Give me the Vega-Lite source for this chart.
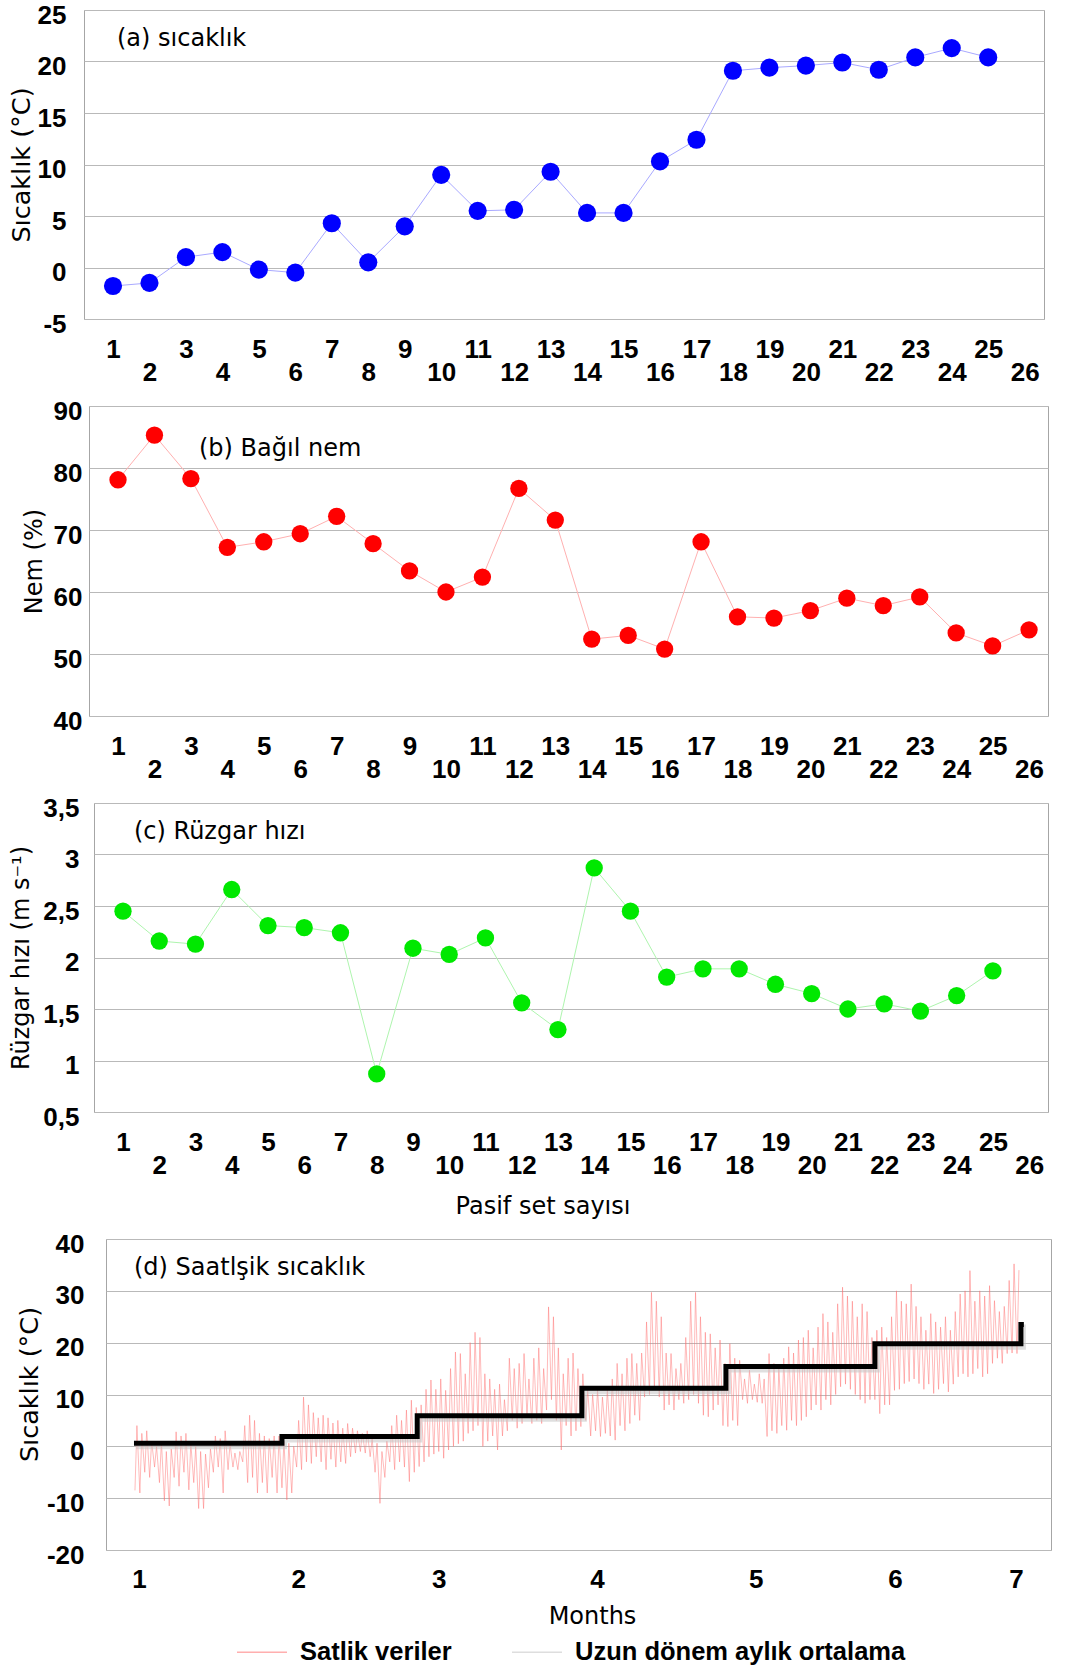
{
  "$schema": "https://vega.github.io/schema/vega-lite/v6.json",
  "background": "white",
  "padding": {"left": 8, "top": 1, "right": 0, "bottom": 0},
  "spacing": 11,
  "config": {
    "view": {"stroke": "#a6a6a6", "strokeWidth": 1},
    "axis": {
      "domain": false, "ticks": false, "tickSize": 0,
      "labelFont": "Liberation Sans", "labelFontWeight": "bold", "labelFontSize": 26, "labelColor": "#000000",
      "titleFont": "DejaVu Sans", "titleFontWeight": "normal", "titleFontSize": 24, "titleColor": "#000000",
      "gridColor": "#b9b9b9", "gridWidth": 1, "labelOverlap": false, "labelFlush": false
    },
    "axisX": {"grid": false},
    "axisY": {"labelOffset": 5},
    "title": {"anchor": "start", "frame": "group", "orient": "top", "offset": 0, "baseline": "alphabetic",
              "font": "DejaVu Sans", "fontSize": 24, "fontWeight": "normal", "color": "#000000"}
  },
  "datasets": {
    "sicaklik": [
      {"set": 1, "deger": -1.8}, {"set": 2, "deger": -1.5}, {"set": 3, "deger": 1.0}, {"set": 4, "deger": 1.5},
      {"set": 5, "deger": -0.2}, {"set": 6, "deger": -0.5}, {"set": 7, "deger": 4.3}, {"set": 8, "deger": 0.5},
      {"set": 9, "deger": 4.0}, {"set": 10, "deger": 9.0}, {"set": 11, "deger": 5.5}, {"set": 12, "deger": 5.6},
      {"set": 13, "deger": 9.3}, {"set": 14, "deger": 5.3}, {"set": 15, "deger": 5.3}, {"set": 16, "deger": 10.3},
      {"set": 17, "deger": 12.4}, {"set": 18, "deger": 19.1}, {"set": 19, "deger": 19.4}, {"set": 20, "deger": 19.6},
      {"set": 21, "deger": 19.9}, {"set": 22, "deger": 19.2}, {"set": 23, "deger": 20.4}, {"set": 24, "deger": 21.3},
      {"set": 25, "deger": 20.4}
    ],
    "nem": [
      {"set": 1, "deger": 78.1}, {"set": 2, "deger": 85.3}, {"set": 3, "deger": 78.3}, {"set": 4, "deger": 67.2},
      {"set": 5, "deger": 68.1}, {"set": 6, "deger": 69.4}, {"set": 7, "deger": 72.2}, {"set": 8, "deger": 67.8},
      {"set": 9, "deger": 63.4}, {"set": 10, "deger": 60.0}, {"set": 11, "deger": 62.4}, {"set": 12, "deger": 76.7},
      {"set": 13, "deger": 71.6}, {"set": 14, "deger": 52.4}, {"set": 15, "deger": 53.0}, {"set": 16, "deger": 50.8},
      {"set": 17, "deger": 68.1}, {"set": 18, "deger": 56.0}, {"set": 19, "deger": 55.8}, {"set": 20, "deger": 57.0},
      {"set": 21, "deger": 59.0}, {"set": 22, "deger": 57.8}, {"set": 23, "deger": 59.2}, {"set": 24, "deger": 53.4},
      {"set": 25, "deger": 51.3}, {"set": 26, "deger": 53.9}
    ],
    "ruzgar": [
      {"set": 1, "deger": 2.45}, {"set": 2, "deger": 2.16}, {"set": 3, "deger": 2.13}, {"set": 4, "deger": 2.66},
      {"set": 5, "deger": 2.31}, {"set": 6, "deger": 2.29}, {"set": 7, "deger": 2.24}, {"set": 8, "deger": 0.87},
      {"set": 9, "deger": 2.09}, {"set": 10, "deger": 2.03}, {"set": 11, "deger": 2.19}, {"set": 12, "deger": 1.56},
      {"set": 13, "deger": 1.30}, {"set": 14, "deger": 2.87}, {"set": 15, "deger": 2.45}, {"set": 16, "deger": 1.81},
      {"set": 17, "deger": 1.89}, {"set": 18, "deger": 1.89}, {"set": 19, "deger": 1.74}, {"set": 20, "deger": 1.65},
      {"set": 21, "deger": 1.50}, {"set": 22, "deger": 1.55}, {"set": 23, "deger": 1.48}, {"set": 24, "deger": 1.63},
      {"set": 25, "deger": 1.87}
    ],
    "aylik": [
      {"gun": 0, "t": 0.6}, {"gun": 30.2, "t": 1.9}, {"gun": 57.8, "t": 5.9}, {"gun": 91.4, "t": 11.2},
      {"gun": 120.8, "t": 15.4}, {"gun": 151.2, "t": 19.8}, {"gun": 181, "t": 23.5}, {"gun": 181.6, "t": 23.5}
    ],
    "saatlik": [
      {"gun":0.2,"t":-8.5},{"gun":0.6,"t":4},{"gun":1.2,"t":-9},{"gun":1.6,"t":2.5},{"gun":2.2,"t":-5},{"gun":2.6,"t":3},
      {"gun":3.2,"t":-6},{"gun":3.6,"t":1},{"gun":4.2,"t":-4},{"gun":4.6,"t":0},{"gun":5.2,"t":-7},{"gun":5.6,"t":1},
      {"gun":6.2,"t":-10.5},{"gun":6.6,"t":-1},{"gun":7.2,"t":-11.5},{"gun":7.6,"t":-0.5},{"gun":8.2,"t":-6},{"gun":8.6,"t":2.8},
      {"gun":9.2,"t":-7.7},{"gun":9.6,"t":2},{"gun":10.2,"t":-5},{"gun":10.6,"t":2.5},{"gun":11.2,"t":-8.4},{"gun":11.6,"t":0.6},
      {"gun":12.2,"t":-7},{"gun":12.6,"t":0},{"gun":13.2,"t":-12},{"gun":13.6,"t":-1},{"gun":14.2,"t":-12},{"gun":14.6,"t":-1.5},
      {"gun":15.2,"t":-8},{"gun":15.6,"t":-0.5},{"gun":16.2,"t":-5},{"gun":16.6,"t":2},{"gun":17.2,"t":-4},{"gun":17.6,"t":1.5},
      {"gun":18.2,"t":-9},{"gun":18.6,"t":3},{"gun":19.2,"t":-4.5},{"gun":19.6,"t":0.5},{"gun":20.2,"t":-4},{"gun":20.6,"t":-1.3},
      {"gun":21.2,"t":-4.5},{"gun":21.6,"t":-1},{"gun":22.2,"t":-3},{"gun":22.6,"t":4},{"gun":23.2,"t":-7},{"gun":23.6,"t":6},
      {"gun":24.2,"t":-6},{"gun":24.6,"t":5},{"gun":25.2,"t":-9},{"gun":25.6,"t":2.5},{"gun":26.2,"t":-7},{"gun":26.6,"t":2},
      {"gun":27.2,"t":-9},{"gun":27.6,"t":1.5},{"gun":28.2,"t":-6},{"gun":28.6,"t":2},{"gun":29.2,"t":-9},{"gun":29.6,"t":2},
      {"gun":30.2,"t":-8},{"gun":30.6,"t":1},{"gun":31.2,"t":-10.3},{"gun":31.6,"t":0.6},{"gun":32.2,"t":-9},{"gun":32.6,"t":0},
      {"gun":33.2,"t":-4},{"gun":33.6,"t":5},{"gun":34.2,"t":-4.5},{"gun":34.6,"t":9.5},{"gun":35.2,"t":-3},{"gun":35.6,"t":8},
      {"gun":36.2,"t":-3.3},{"gun":36.6,"t":6.5},{"gun":37.2,"t":-2},{"gun":37.6,"t":5.5},{"gun":38.2,"t":-3},{"gun":38.6,"t":6},
      {"gun":39.2,"t":-4.5},{"gun":39.6,"t":5.5},{"gun":40.2,"t":-2.5},{"gun":40.6,"t":4.5},{"gun":41.2,"t":-4},{"gun":41.6,"t":5},
      {"gun":42.2,"t":-3},{"gun":42.6,"t":3.5},{"gun":43.2,"t":-3.3},{"gun":43.6,"t":4.4},{"gun":44.2,"t":-2},{"gun":44.6,"t":3.5},
      {"gun":45.2,"t":-1.3},{"gun":45.6,"t":3},{"gun":46.2,"t":-1},{"gun":46.6,"t":2.5},{"gun":47.2,"t":-1.3},{"gun":47.6,"t":3},
      {"gun":48.2,"t":-2},{"gun":48.6,"t":1.5},{"gun":49.2,"t":-5},{"gun":49.6,"t":0.6},{"gun":50.2,"t":-11},{"gun":50.6,"t":-1},
      {"gun":51.2,"t":-6},{"gun":51.6,"t":1},{"gun":52.2,"t":-3},{"gun":52.6,"t":4},{"gun":53.2,"t":-4.5},{"gun":53.6,"t":6},
      {"gun":54.2,"t":-3},{"gun":54.6,"t":5},{"gun":55.2,"t":-4},{"gun":55.6,"t":7},{"gun":56.2,"t":-6.8},{"gun":56.6,"t":8.9},
      {"gun":57.2,"t":-5},{"gun":57.6,"t":7.5},{"gun":58.2,"t":-3.9},{"gun":58.6,"t":8},{"gun":59.2,"t":-3},{"gun":59.6,"t":11},
      {"gun":60.2,"t":-2},{"gun":60.6,"t":12.8},{"gun":61.2,"t":-1.5},{"gun":61.6,"t":11},{"gun":62.2,"t":-1},{"gun":62.6,"t":13},
      {"gun":63.2,"t":-2.3},{"gun":63.6,"t":10.8},{"gun":64.2,"t":-0.7},{"gun":64.6,"t":15},{"gun":65.2,"t":0},{"gun":65.6,"t":18.2},
      {"gun":66.2,"t":0.5},{"gun":66.6,"t":17.9},{"gun":67.2,"t":1},{"gun":67.6,"t":14},{"gun":68.2,"t":2.5},{"gun":68.6,"t":20},
      {"gun":69.2,"t":3},{"gun":69.6,"t":22},{"gun":70.2,"t":4},{"gun":70.6,"t":21},{"gun":71.2,"t":0},{"gun":71.6,"t":14},
      {"gun":72.2,"t":1},{"gun":72.6,"t":13},{"gun":73.2,"t":2},{"gun":73.6,"t":11},{"gun":74.2,"t":-0.7},{"gun":74.6,"t":12},
      {"gun":75.2,"t":2},{"gun":75.6,"t":9},{"gun":76.2,"t":3},{"gun":76.6,"t":17},{"gun":77.2,"t":5},{"gun":77.6,"t":15},
      {"gun":78.2,"t":3.5},{"gun":78.6,"t":16},{"gun":79.2,"t":4.4},{"gun":79.6,"t":17.9},{"gun":80.2,"t":6},{"gun":80.6,"t":13},
      {"gun":81.2,"t":4.4},{"gun":81.6,"t":17},{"gun":82.2,"t":5},{"gun":82.6,"t":19},{"gun":83.2,"t":4.4},{"gun":83.6,"t":15},
      {"gun":84.2,"t":7},{"gun":84.6,"t":26.9},{"gun":85.2,"t":9},{"gun":85.6,"t":25},{"gun":86.2,"t":5},{"gun":86.6,"t":19},
      {"gun":87.2,"t":-0.7},{"gun":87.6,"t":14},{"gun":88.2,"t":4},{"gun":88.6,"t":17},{"gun":89.2,"t":2},{"gun":89.6,"t":18},
      {"gun":90.2,"t":3},{"gun":90.6,"t":15},{"gun":91.2,"t":3.8},{"gun":91.6,"t":14},{"gun":92.2,"t":5},{"gun":92.6,"t":11},
      {"gun":93.2,"t":2},{"gun":93.6,"t":10},{"gun":94.2,"t":3},{"gun":94.6,"t":11},{"gun":95.2,"t":1.9},{"gun":95.6,"t":9.5},
      {"gun":96.2,"t":2.5},{"gun":96.6,"t":11},{"gun":97.2,"t":2},{"gun":97.6,"t":13},{"gun":98.2,"t":1.2},{"gun":98.6,"t":16},
      {"gun":99.2,"t":4},{"gun":99.6,"t":14},{"gun":100.2,"t":3},{"gun":100.6,"t":17},{"gun":101.2,"t":4.4},{"gun":101.6,"t":17.9},
      {"gun":102.2,"t":6},{"gun":102.6,"t":16},{"gun":103.2,"t":5},{"gun":103.6,"t":18},{"gun":104.2,"t":9.5},{"gun":104.6,"t":24},
      {"gun":105.2,"t":10},{"gun":105.6,"t":29.7},{"gun":106.2,"t":11},{"gun":106.6,"t":28},{"gun":107.2,"t":9.5},{"gun":107.6,"t":25},
      {"gun":108.2,"t":7},{"gun":108.6,"t":18},{"gun":109.2,"t":8},{"gun":109.6,"t":17.9},{"gun":110.2,"t":7},{"gun":110.6,"t":15},
      {"gun":111.2,"t":9},{"gun":111.6,"t":16},{"gun":112.2,"t":8.3},{"gun":112.6,"t":21},{"gun":113.2,"t":9},{"gun":113.6,"t":28},
      {"gun":114.2,"t":10},{"gun":114.6,"t":29.7},{"gun":115.2,"t":8.3},{"gun":115.6,"t":25},{"gun":116.2,"t":6},{"gun":116.6,"t":22},
      {"gun":117.2,"t":5.7},{"gun":117.6,"t":21.7},{"gun":118.2,"t":7},{"gun":118.6,"t":19},{"gun":119.2,"t":8},{"gun":119.6,"t":20.5},
      {"gun":120.2,"t":4},{"gun":120.6,"t":16},{"gun":121.2,"t":3.8},{"gun":121.6,"t":19.8},{"gun":122.2,"t":5},{"gun":122.6,"t":17},
      {"gun":123.2,"t":4},{"gun":123.6,"t":16.6},{"gun":124.2,"t":9},{"gun":124.6,"t":13},{"gun":125.2,"t":8.3},{"gun":125.6,"t":14.7},
      {"gun":126.2,"t":9},{"gun":126.6,"t":12},{"gun":127.2,"t":8.5},{"gun":127.6,"t":14},{"gun":128.2,"t":8.3},{"gun":128.6,"t":13},
      {"gun":129.2,"t":1.9},{"gun":129.6,"t":17.9},{"gun":130.2,"t":3},{"gun":130.6,"t":16},{"gun":131.2,"t":2.5},{"gun":131.6,"t":15},
      {"gun":132.2,"t":4},{"gun":132.6,"t":17},{"gun":133.2,"t":3.1},{"gun":133.6,"t":19.2},{"gun":134.2,"t":5},{"gun":134.6,"t":18},
      {"gun":135.2,"t":4},{"gun":135.6,"t":20.5},{"gun":136.2,"t":5},{"gun":136.6,"t":21},{"gun":137.2,"t":5.7},{"gun":137.6,"t":22.4},
      {"gun":138.2,"t":7},{"gun":138.6,"t":19},{"gun":139.2,"t":8},{"gun":139.6,"t":23},{"gun":140.2,"t":7},{"gun":140.6,"t":25.6},
      {"gun":141.2,"t":9},{"gun":141.6,"t":24},{"gun":142.2,"t":8},{"gun":142.6,"t":22},{"gun":143.2,"t":10},{"gun":143.6,"t":27.5},
      {"gun":144.2,"t":11.5},{"gun":144.6,"t":30.7},{"gun":145.2,"t":12},{"gun":145.6,"t":29},{"gun":146.2,"t":11},{"gun":146.6,"t":28},
      {"gun":147.2,"t":10},{"gun":147.6,"t":25},{"gun":148.2,"t":9},{"gun":148.6,"t":27.5},{"gun":149.2,"t":8.3},{"gun":149.6,"t":26},
      {"gun":150.2,"t":9},{"gun":150.6,"t":21},{"gun":151.2,"t":9},{"gun":151.6,"t":22.4},{"gun":152.2,"t":6.3},{"gun":152.6,"t":23},
      {"gun":153.2,"t":8},{"gun":153.6,"t":21},{"gun":154.2,"t":8},{"gun":154.6,"t":25},{"gun":155.2,"t":10.8},{"gun":155.6,"t":30},
      {"gun":156.2,"t":11},{"gun":156.6,"t":28},{"gun":157.2,"t":12.1},{"gun":157.6,"t":27.5},{"gun":158.2,"t":12.5},{"gun":158.6,"t":31.3},
      {"gun":159.2,"t":13},{"gun":159.6,"t":27},{"gun":160.2,"t":12.1},{"gun":160.6,"t":25},{"gun":161.2,"t":11},{"gun":161.6,"t":22.4},
      {"gun":162.2,"t":12},{"gun":162.6,"t":25.6},{"gun":163.2,"t":10.2},{"gun":163.6,"t":24},{"gun":164.2,"t":11},{"gun":164.6,"t":23},
      {"gun":165.2,"t":12.1},{"gun":165.6,"t":25},{"gun":166.2,"t":10.5},{"gun":166.6,"t":22.4},{"gun":167.2,"t":12},{"gun":167.6,"t":26},
      {"gun":168.2,"t":13.4},{"gun":168.6,"t":29.4},{"gun":169.2,"t":14},{"gun":169.6,"t":30},{"gun":170.2,"t":13.4},{"gun":170.6,"t":33.9},
      {"gun":171.2,"t":14},{"gun":171.6,"t":28},{"gun":172.2,"t":15},{"gun":172.6,"t":30},{"gun":173.2,"t":13.4},{"gun":173.6,"t":29},
      {"gun":174.2,"t":14},{"gun":174.6,"t":31},{"gun":175.2,"t":16},{"gun":175.6,"t":28.1},{"gun":176.2,"t":17},{"gun":176.6,"t":26},
      {"gun":177.2,"t":16},{"gun":177.6,"t":27},{"gun":178.2,"t":17.9},{"gun":178.6,"t":32},{"gun":179.2,"t":18},{"gun":179.6,"t":35.2},
      {"gun":180.2,"t":17.9},{"gun":180.6,"t":34}
    ]
  },
  "vconcat": [
    {
      "hconcat": [
        {"width": 1, "height": 1, "data": {"values": []}, "mark": "point", "view": {"stroke": null}},
        {
          "width": 960, "height": 309,
          "title": {"text": "(a) sıcaklık", "dx": 33, "dy": 53},
          "data": {"name": "sicaklik"},
          "encoding": {
            "x": {"field": "set", "type": "quantitative",
                  "scale": {"domain": [0.205, 26.53], "nice": false, "zero": false},
                  "axis": {"values": [1,2,3,4,5,6,7,8,9,10,11,12,13,14,15,16,17,18,19,20,21,22,23,24,25,26],
                           "title": null, "labelBaseline": "alphabetic",
                           "labelPadding": {"condition": {"test": "datum.value % 2 === 0", "value": 61}, "value": 38}}},
            "y": {"field": "deger", "type": "quantitative",
                  "scale": {"domain": [-5, 25], "nice": false, "zero": false},
                  "axis": {"values": [-5,0,5,10,15,20,25], "labelExpr": "datum.value + ''", "labelPadding": 18,
                           "title": "Sıcaklık (°C)", "titleFontSize": 25.5, "titleX": -63, "titleY": 154.5, "titleAngle": -90,
                           "titleBaseline": "middle", "titleAlign": "center"}}
          },
          "layer": [
            {"mark": {"type": "line", "color": "#a9a9ff", "strokeWidth": 1}},
            {"mark": {"type": "circle", "color": "#0000ff", "size": 330, "opacity": 1}}
          ]
        }
      ],
      "spacing": 0, "bounds": "flush"
    },
    {
      "hconcat": [
        {"width": 6, "height": 1, "data": {"values": []}, "mark": "point", "view": {"stroke": null}},
        {
          "width": 959, "height": 310,
          "title": {"text": "(b) Bağıl nem", "dx": 110, "dy": 67},
          "data": {"name": "nem"},
          "encoding": {
            "x": {"field": "set", "type": "quantitative",
                  "scale": {"domain": [0.204, 26.52], "nice": false, "zero": false},
                  "axis": {"values": [1,2,3,4,5,6,7,8,9,10,11,12,13,14,15,16,17,18,19,20,21,22,23,24,25,26],
                           "title": null, "labelBaseline": "alphabetic",
                           "labelPadding": {"condition": {"test": "datum.value % 2 === 0", "value": 61}, "value": 38}}},
            "y": {"field": "deger", "type": "quantitative",
                  "scale": {"domain": [40, 90], "nice": false, "zero": false},
                  "axis": {"values": [40,50,60,70,80,90], "labelPadding": 7,
                           "title": "Nem (%)", "titleX": -55, "titleY": 155, "titleAngle": -90,
                           "titleBaseline": "middle", "titleAlign": "center"}}
          },
          "layer": [
            {"mark": {"type": "line", "color": "#ffb0b0", "strokeWidth": 1}},
            {"mark": {"type": "circle", "color": "#ff0000", "size": 300, "opacity": 1}}
          ]
        }
      ],
      "spacing": 0, "bounds": "flush"
    },
    {
      "hconcat": [
        {"width": 11, "height": 1, "data": {"values": []}, "mark": "point", "view": {"stroke": null}},
        {
          "width": 954, "height": 309,
          "title": {"text": "(c) Rüzgar hızı", "dx": 40, "dy": 53},
          "data": {"name": "ruzgar"},
          "encoding": {
            "x": {"field": "set", "type": "quantitative",
                  "scale": {"domain": [0.2, 26.52], "nice": false, "zero": false},
                  "axis": {"values": [1,2,3,4,5,6,7,8,9,10,11,12,13,14,15,16,17,18,19,20,21,22,23,24,25,26],
                           "title": "Pasif set sayısı", "titleX": 448.5, "titleY": 101, "titleBaseline": "alphabetic",
                           "labelBaseline": "alphabetic",
                           "labelPadding": {"condition": {"test": "datum.value % 2 === 0", "value": 61}, "value": 38}}},
            "y": {"field": "deger", "type": "quantitative",
                  "scale": {"domain": [0.5, 3.5], "nice": false, "zero": false},
                  "axis": {"values": [0.5,1,1.5,2,2.5,3,3.5], "labelPadding": 15,
                           "labelExpr": "replace(datum.value + '', '.', ',')",
                           "title": "Rüzgar hızı (m s⁻¹)", "titleX": -73, "titleY": 154.5, "titleAngle": -90,
                           "titleBaseline": "middle", "titleAlign": "center"}}
          },
          "layer": [
            {"mark": {"type": "line", "color": "#aef5ae", "strokeWidth": 1}},
            {"mark": {"type": "circle", "color": "#00e800", "size": 300, "opacity": 1}}
          ]
        }
      ],
      "spacing": 0, "bounds": "flush"
    },
    {
      "hconcat": [
        {"width": 23, "height": 1, "data": {"values": []}, "mark": "point", "view": {"stroke": null}},
        {
          "width": 945, "height": 311,
          "title": {"text": "(d) Saatlşik sıcaklık", "dx": 28, "dy": 53},
          "encoding": {
            "x": {"field": "gun", "type": "quantitative",
                  "scale": {"domain": [-5.71, 187.14], "nice": false, "zero": false},
                  "axis": {"values": [1, 33.5, 62.2, 94.5, 126.9, 155.3, 180],
                           "labelExpr": "(indexof([1, 33.5, 62.2, 94.5, 126.9, 155.3, 180], datum.value) + 1) + ''",
                           "labelBaseline": "alphabetic", "labelPadding": 37,
                           "title": "Months", "titleX": 486, "titleY": 73, "titleBaseline": "alphabetic"}},
            "y": {"field": "t", "type": "quantitative",
                  "scale": {"domain": [-20, 40], "nice": false, "zero": false},
                  "axis": {"values": [-20,-10,0,10,20,30,40], "labelExpr": "datum.value + ''", "labelPadding": 22,
                           "title": "Sıcaklık (°C)", "titleFontSize": 25.5, "titleX": -77, "titleY": 145, "titleAngle": -90,
                           "titleBaseline": "middle", "titleAlign": "center"}}
          },
          "layer": [
            {
              "data": {"name": "saatlik"},
              "mark": {"type": "line", "strokeWidth": 0.8, "opacity": 0.6},
              "encoding": {
                "color": {"datum": "Satlik veriler", "type": "nominal",
                          "scale": {"domain": ["Satlik veriler", "Uzun dönem aylık ortalama"], "range": ["#ff6f6f", "#c4c4c4"]},
                          "legend": {"orient": "none", "legendX": 153, "legendY": 1616, "direction": "horizontal", "title": null,
                                     "padding": 0, "symbolType": "stroke", "symbolSize": 2500, "symbolStrokeWidth": 1.5,
                                     "symbolOpacity": 1,
                                     "labelFont": "Liberation Sans", "labelFontWeight": "bold", "labelFontSize": 25.5,
                                     "labelColor": "#000000", "labelOffset": 12, "labelLimit": 0, "columnPadding": 57}}
              }
            },
            {
              "data": {"name": "aylik"},
              "mark": {"type": "line", "interpolate": "step-after", "strokeWidth": 6, "opacity": 0.55,
                       "xOffset": 2, "yOffset": 3},
              "encoding": {"color": {"datum": "Uzun dönem aylık ortalama", "type": "nominal"}}
            },
            {
              "data": {"name": "aylik"},
              "mark": {"type": "line", "interpolate": "step-after", "strokeWidth": 5, "color": "#000000"}
            }
          ]
        }
      ],
      "spacing": 0, "bounds": "flush"
    }
  ]
}
